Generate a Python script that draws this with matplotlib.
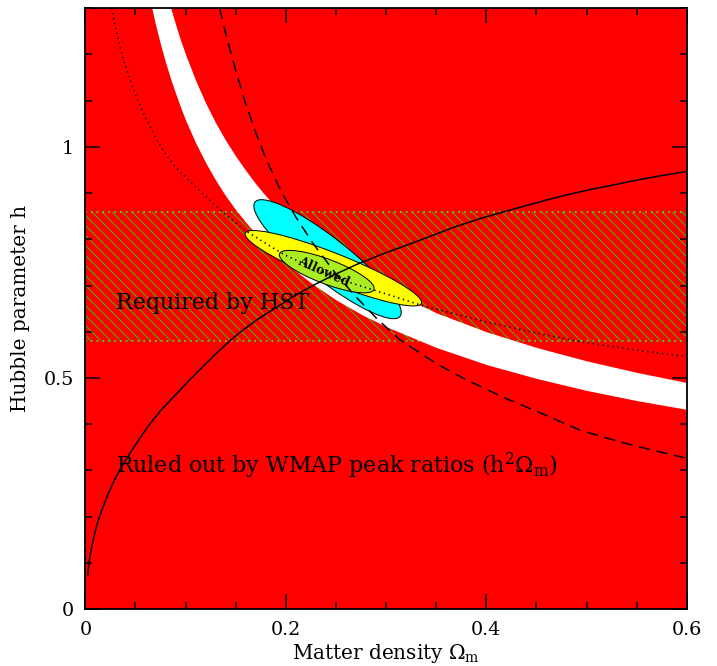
import matplotlib.pyplot as plt
from matplotlib.patches import Ellipse
from matplotlib.ticker import MultipleLocator
import numpy as np

# 読み取った値
# 白い帯 (WMAP peak ratio で許される h^2 Om)
band_om = [0.066, 0.07, 0.075, 0.08, 0.085, 0.09, 0.095, 0.1, 0.11, 0.12,
           0.13, 0.14, 0.15, 0.16, 0.17, 0.18, 0.19, 0.2, 0.225, 0.25,
           0.275, 0.3, 0.35, 0.4, 0.45, 0.5, 0.55, 0.6]
band_h_low = [1.303, 1.265, 1.222, 1.183, 1.148, 1.116, 1.086, 1.058, 1.009, 0.966,
              0.928, 0.894, 0.864, 0.837, 0.812, 0.789, 0.768, 0.748, 0.706, 0.669,
              0.638, 0.611, 0.566, 0.529, 0.499, 0.473, 0.451, 0.432]
band_h_high = [1.477, 1.434, 1.386, 1.342, 1.302, 1.265, 1.231, 1.200, 1.144, 1.095,
               1.052, 1.014, 0.980, 0.949, 0.920, 0.894, 0.871, 0.849, 0.800, 0.759,
               0.724, 0.693, 0.641, 0.600, 0.566, 0.537, 0.512, 0.490]

# 破線
dash_om = [0.134, 0.14, 0.15, 0.16, 0.17, 0.18, 0.195, 0.21, 0.2275, 0.25,
           0.268, 0.29, 0.314, 0.35, 0.38, 0.42, 0.4468, 0.4933, 0.52, 0.55,
           0.575, 0.6]
dash_h = [1.30, 1.245, 1.165, 1.093, 1.031, 0.975, 0.905, 0.848, 0.790, 0.725,
          0.680, 0.630, 0.582, 0.531, 0.496, 0.455, 0.431, 0.387, 0.370, 0.352,
          0.339, 0.326]

# 点線
dot_om = [0.0263, 0.03, 0.035, 0.04, 0.05, 0.0595, 0.07, 0.08, 0.09, 0.1044,
          0.12, 0.14, 0.161, 0.1875, 0.2, 0.25, 0.2806, 0.32, 0.334, 0.4,
          0.45, 0.493, 0.55, 0.6]
dot_h = [1.30, 1.259, 1.213, 1.174, 1.112, 1.066, 1.020, 0.985, 0.956, 0.925,
         0.893, 0.853, 0.817, 0.781, 0.765, 0.716, 0.695, 0.668, 0.658, 0.621,
         0.597, 0.579, 0.560, 0.546]

# 実線
solid_om = [0.0024, 0.004, 0.0064, 0.0095, 0.013, 0.018, 0.023, 0.029, 0.036, 0.043,
            0.05, 0.058, 0.066, 0.075, 0.085, 0.095, 0.105, 0.117, 0.13, 0.142,
            0.155, 0.172, 0.19, 0.208, 0.227, 0.248, 0.27, 0.296, 0.324, 0.347,
            0.37, 0.394, 0.418, 0.44, 0.46, 0.48, 0.5, 0.525, 0.55, 0.575, 0.6]
solid_h = [0.074, 0.105, 0.135, 0.165, 0.193, 0.223, 0.250, 0.279, 0.307, 0.332,
           0.355, 0.381, 0.405, 0.429, 0.452, 0.475, 0.498, 0.524, 0.552, 0.576,
           0.600, 0.627, 0.652, 0.677, 0.700, 0.723, 0.745, 0.768, 0.790, 0.809,
           0.828, 0.845, 0.860, 0.873, 0.885, 0.896, 0.906, 0.917, 0.928, 0.938, 0.947]

# HST の範囲
hst_h = [0.58, 0.86]

# 楕円: 中心 Om, 中心 h, 幅, 高さ, 角度
cyan_ell = [0.2416, 0.757, 0.2908, 0.058, -61.7]
yellow_ell = [0.2474, 0.7374, 0.2346, 0.052, -42.6]
green_ell = [0.2408, 0.7301, 0.1247, 0.043, -44.0]

plt.rcParams['font.family'] = 'DejaVu Serif'
plt.rcParams['mathtext.fontset'] = 'dejavuserif'
plt.rcParams['hatch.linewidth'] = 0.55

RED = '#ff0000'
GREEN = '#33cc00'

fig = plt.figure(figsize=(717 / 120, 666 / 120), dpi=120)
ax = fig.add_axes([0.119, 0.0856, 0.839, 0.902])
ax.set_facecolor(RED)

# HST の斜線帯
ax.fill_between([0, 0.6], hst_h[0], hst_h[1], facecolor='none',
                edgecolor=GREEN, hatch='\\\\\\\\', linewidth=0, zorder=1)
for yy in hst_h:
    ax.axhline(yy, color='#44ee22', lw=1.0, ls=(0, (1, 2.5)), zorder=1.5)

# 白い帯
ax.fill_between(band_om, band_h_low, band_h_high, color='white', lw=0, zorder=2)

# 楕円
for ell, col in [(cyan_ell, '#00ffff'), (yellow_ell, '#ffff00'), (green_ell, '#aaee22')]:
    ax.add_patch(Ellipse((ell[0], ell[1]), ell[2], ell[3], angle=ell[4],
                         facecolor=col, edgecolor='black', lw=0.6, zorder=3))

ax.plot(dash_om, dash_h, color='black', lw=0.9, ls=(0, (7.5, 4.5)), zorder=4)
ax.plot(dot_om, dot_h, color='black', lw=1.0, ls=(0, (0.8, 2.2)), zorder=4)
ax.plot(solid_om, solid_h, color='black', lw=0.9, zorder=4)

ax.text(0.2380, 0.730, 'Allowed', fontsize=7.5, fontweight='bold', rotation=-24,
        ha='center', va='center', zorder=5)
ax.text(0.031, 0.662, 'Required by HST', fontsize=13.3, va='center', zorder=5)
ax.text(0.031, 0.31, r'Ruled out by WMAP peak ratios ($\mathrm{h}^2\Omega_\mathrm{m}$)',
        fontsize=13.3, va='center', zorder=5)

ax.set_xlim(0, 0.6)
ax.set_ylim(0, 1.3)
ax.set_xticks([0, 0.2, 0.4, 0.6])
ax.set_xticklabels(['0', '0.2', '0.4', '0.6'])
ax.set_yticks([0, 0.5, 1])
ax.set_yticklabels(['0', '0.5', '1'])
ax.xaxis.set_minor_locator(MultipleLocator(0.05))
ax.yaxis.set_minor_locator(MultipleLocator(0.1))
ax.tick_params(which='both', direction='in', top=True, right=True, width=0.9,
               labelsize=11.5, pad=7)
ax.tick_params(which='major', length=9)
ax.tick_params(which='minor', length=4)
for sp in ax.spines.values():
    sp.set_linewidth(1.1)
    sp.set_zorder(6)

ax.set_xlabel(r'Matter density $\Omega_\mathrm{m}$', fontsize=12, labelpad=2)
ax.set_ylabel('Hubble parameter h', fontsize=12, labelpad=8)

fig.savefig('out.png', dpi=120)
